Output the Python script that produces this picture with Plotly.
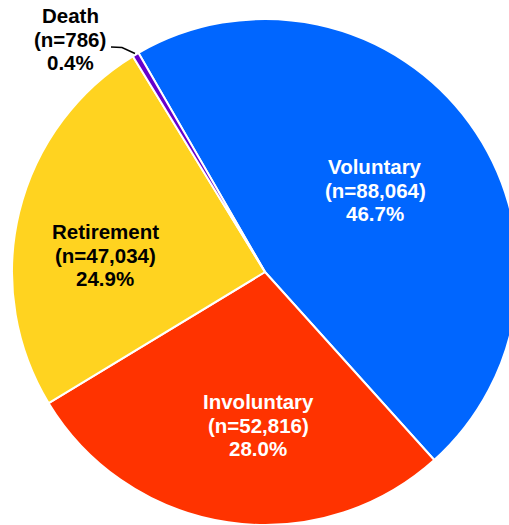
import plotly.graph_objects as go

# Separation reasons and counts
categories = ["Voluntary", "Involuntary", "Retirement", "Death"]
counts = [88064, 52816, 47034, 786]
colors = ["#0066FF", "#FF3300", "#FFD320", "#6600CC"]
label_colors = ["white", "white", "black", "black"]

# Label centres in pixels (x, y from top-left)
label_pos = [(375, 190), (258, 425), (105, 255), (70, 39)]
LINE_GAP = 23.5

W, H = 520, 525
total = sum(counts)

fig = go.Figure(
    go.Pie(
        labels=categories,
        values=counts,
        sort=False,
        direction="clockwise",
        rotation=-30,
        marker=dict(colors=colors, line=dict(color="white", width=2)),
        textinfo="none",
        hoverinfo="label+value+percent",
        showlegend=False,
        domain=dict(x=[12 / W, 518 / W], y=[0, 1 - 19 / H]),
    )
)

annotations = []
for name, n, col, (px, py) in zip(categories, counts, label_colors, label_pos):
    pct = 100 * n / total
    lines = [name, f"(n={n:,})", f"{pct:.1f}%"]
    for k, line in enumerate(lines):
        ly = py + (k - 1) * LINE_GAP
        annotations.append(
            dict(
                text=f"<b>{line}</b>",
                x=px / W,
                y=1 - ly / H,
                xref="paper",
                yref="paper",
                xanchor="center",
                yanchor="middle",
                showarrow=False,
                align="center",
                font=dict(family="Arial, Liberation Sans, sans-serif", size=20.5, color=col),
            )
        )

# Leader line for the small Death slice
leader = [(111, 47), (122, 47.5), (135, 53.5)]
path = "M " + " L ".join(f"{x / W},{1 - y / H}" for x, y in leader)

fig.update_layout(
    width=W,
    height=H,
    margin=dict(l=0, r=0, t=0, b=0),
    paper_bgcolor="white",
    plot_bgcolor="white",
    annotations=annotations,
    shapes=[
        dict(
            type="path",
            path=path,
            xref="paper",
            yref="paper",
            line=dict(color="black", width=1.5),
        )
    ],
)

fig.write_html(
    "out.html",
    config={"displayModeBar": False},
    post_script="document.body.style.margin='0';document.body.style.overflow='hidden';document.documentElement.style.overflow='hidden';",
)
